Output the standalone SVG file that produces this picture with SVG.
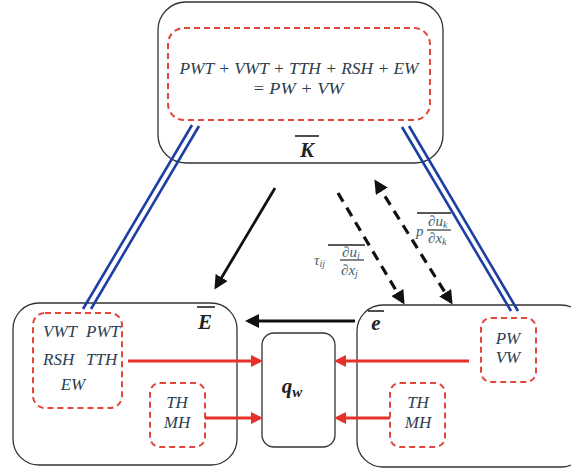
<svg xmlns="http://www.w3.org/2000/svg" width="571" height="472" viewBox="0 0 571 472">
<style>
.box{fill:#fff;stroke:#333;stroke-width:1.3}
.dbox{fill:none;stroke:#e2473a;stroke-width:2;stroke-dasharray:6,4}
.t{font-family:"Liberation Serif",serif;font-style:italic;fill:#2c3e50;font-size:17px}
.lbl{font-family:"Liberation Serif",serif;font-style:italic;font-weight:bold;fill:#222;font-size:21px}
.red{stroke:#e8302a;stroke-width:3;fill:none;marker-end:url(#ar)}
.blk{stroke:#111;stroke-width:2.8;fill:none}
.dsh{stroke:#111;stroke-width:3.2;fill:none;stroke-dasharray:10,7}
.blue{stroke:#1d3fa5;stroke-width:2.6;fill:none}
.f{font-family:"Liberation Serif",serif;font-style:italic;fill:#3d5f73;font-size:15px}
</style>
<defs>
<marker id="ar" markerWidth="12" markerHeight="12" refX="9" refY="6" orient="auto" markerUnits="userSpaceOnUse" viewBox="0 0 12 12"><path d="M0,0 L12,6 L0,12 z" fill="#e8302a"/></marker>
<marker id="ab" markerWidth="14" markerHeight="14" refX="11" refY="7" orient="auto" markerUnits="userSpaceOnUse" viewBox="0 0 14 14"><path d="M0,0 L14,7 L0,14 z" fill="#111"/></marker>
<marker id="abs" markerWidth="14" markerHeight="14" refX="3" refY="7" orient="auto" markerUnits="userSpaceOnUse" viewBox="0 0 14 14"><path d="M14,0 L0,7 L14,14 z" fill="#111"/></marker>
</defs>
<g id="nodeK">
<rect class="box" x="158" y="2" width="285" height="161" rx="28"/>
<rect class="dbox" x="168" y="28" width="262" height="92" rx="16"/>
<text class="t" x="299" y="74" text-anchor="middle" textLength="239" lengthAdjust="spacingAndGlyphs">PWT + VWT + TTH + RSH + EW</text>
<text class="t" x="298" y="94" text-anchor="middle" textLength="91" lengthAdjust="spacingAndGlyphs">= PW + VW</text>
<text class="lbl" x="307" y="157" text-anchor="middle">K</text>
<line x1="295" y1="136" x2="319" y2="136" stroke="#222" stroke-width="1.6"/>
</g>
<g id="nodeE">
<rect class="box" x="13" y="303" width="224" height="162" rx="26"/>
<rect class="dbox" x="33" y="313" width="89" height="95" rx="12"/>
<text class="t" x="43" y="337">VWT</text>
<text class="t" x="86" y="337">PWT</text>
<text class="t" x="43" y="365">RSH</text>
<text class="t" x="86" y="365">TTH</text>
<text class="t" x="73" y="390" text-anchor="middle">EW</text>
<rect class="dbox" x="150" y="383" width="55" height="64" rx="10"/>
<text class="t" x="177" y="408" text-anchor="middle">TH</text>
<text class="t" x="177" y="428" text-anchor="middle">MH</text>
<text class="lbl" x="205" y="329" text-anchor="middle">E</text>
<line x1="197" y1="307" x2="215" y2="307" stroke="#222" stroke-width="1.6"/>
</g>
<g id="nodeQ">
<rect class="box" x="262" y="333" width="73" height="114" rx="12"/>
<text class="lbl" x="292" y="393" text-anchor="middle" font-size="23">q<tspan font-size="15" dy="4">w</tspan></text>
</g>
<g id="nodeRe">
<rect class="box" x="357" y="305" width="230" height="162" rx="26"/>
<rect class="dbox" x="481" y="318" width="55" height="64" rx="10"/>
<text class="t" x="508" y="344" text-anchor="middle">PW</text>
<text class="t" x="508" y="363" text-anchor="middle">VW</text>
<rect class="dbox" x="390" y="383" width="55" height="64" rx="10"/>
<text class="t" x="418" y="408" text-anchor="middle">TH</text>
<text class="t" x="418" y="428" text-anchor="middle">MH</text>
<text class="lbl" x="376" y="330" text-anchor="middle">e</text>
<line x1="368" y1="311" x2="384" y2="311" stroke="#222" stroke-width="1.6"/>
</g>
<g id="connectors">
<line class="blue" x1="192" y1="125" x2="83" y2="309"/>
<line class="blue" x1="199" y1="126" x2="91" y2="309"/>
<line class="blue" x1="402" y1="127" x2="511" y2="311"/>
<line class="blue" x1="409" y1="126" x2="518" y2="311"/>
<line class="red" x1="128" y1="361" x2="260" y2="361"/>
<line class="red" x1="205" y1="418" x2="260" y2="418"/>
<line class="red" x1="469" y1="361" x2="337" y2="361"/>
<line class="red" x1="390" y1="418" x2="337" y2="418"/>
<line class="blk" x1="355" y1="321" x2="248" y2="321" marker-end="url(#ab)"/>
<line class="blk" x1="275" y1="188" x2="216" y2="287" marker-end="url(#ab)"/>
<line class="dsh" x1="338" y1="193" x2="403" y2="302" marker-end="url(#ab)"/>
<line class="dsh" x1="376" y1="182" x2="451" y2="302" marker-end="url(#ab)" marker-start="url(#abs)"/>
</g>
<g id="labels">
<line x1="328" y1="245" x2="365" y2="245" stroke="#222" stroke-width="1.3"/>
<text class="f" x="314" y="265">τ<tspan font-size="10" dy="2">ij</tspan></text>
<text class="f" x="342" y="257">∂u<tspan font-size="10" dy="2">i</tspan></text>
<line x1="340" y1="260" x2="364" y2="260" stroke="#222" stroke-width="1.1"/>
<text class="f" x="341" y="275">∂x<tspan font-size="10" dy="2">j</tspan></text>
<line x1="417" y1="213" x2="451" y2="213" stroke="#222" stroke-width="1.3"/>
<text class="f" x="416" y="236">p</text>
<text class="f" x="428" y="226">∂u<tspan font-size="10" dy="2">k</tspan></text>
<line x1="427" y1="230" x2="451" y2="230" stroke="#222" stroke-width="1.1"/>
<text class="f" x="428" y="243">∂x<tspan font-size="10" dy="2">k</tspan></text>
</g>
</svg>
